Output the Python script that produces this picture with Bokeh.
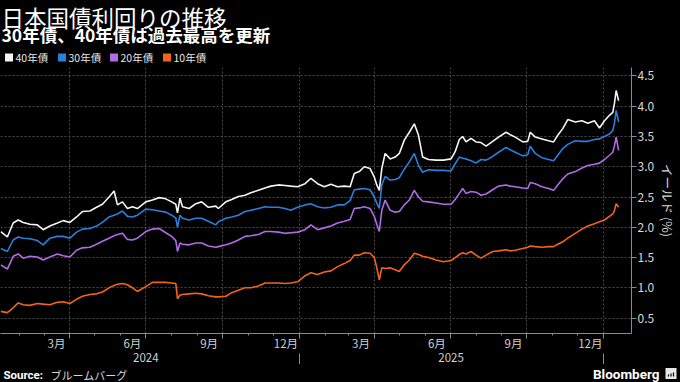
import pandas as pd
from bokeh.plotting import figure
from bokeh.layouts import column
from bokeh.models import (ColumnDataSource, FixedTicker, LinearAxis, Grid,
                          Range1d, NumeralTickFormatter)
from bokeh.core.properties import value
from bokeh.embed import file_html
from bokeh.resources import INLINE

# ---------------- data ----------------
dates = [
    "2024-01-09", "2024-01-17", "2024-01-24", "2024-01-30", "2024-02-05", "2024-02-13", "2024-02-22", "2024-02-29", "2024-03-08", "2024-03-17",
    "2024-03-24", "2024-04-01", "2024-04-09", "2024-04-16", "2024-04-25", "2024-05-03", "2024-05-10", "2024-05-18", "2024-05-24", "2024-05-28",
    "2024-06-03", "2024-06-09", "2024-06-15", "2024-06-21", "2024-07-01", "2024-07-09", "2024-07-17", "2024-07-25", "2024-08-01", "2024-08-06",
    "2024-08-08", "2024-08-11", "2024-08-14", "2024-08-22", "2024-08-30", "2024-09-06", "2024-09-14", "2024-09-23", "2024-09-26", "2024-10-05",
    "2024-10-12", "2024-10-20", "2024-10-28", "2024-11-04", "2024-11-13", "2024-11-21", "2024-11-28", "2024-12-07", "2024-12-15", "2024-12-22",
    "2024-12-30", "2025-01-08", "2025-01-15", "2025-01-23", "2025-01-31", "2025-02-08", "2025-02-16", "2025-02-24", "2025-03-03", "2025-03-08",
    "2025-03-14", "2025-03-20", "2025-03-27", "2025-04-01", "2025-04-04", "2025-04-07", "2025-04-10", "2025-04-14", "2025-04-20", "2025-04-26",
    "2025-05-01", "2025-05-07", "2025-05-13", "2025-05-19", "2025-05-24", "2025-05-29", "2025-06-05", "2025-06-14", "2025-06-23", "2025-07-02",
    "2025-07-07", "2025-07-12", "2025-07-16", "2025-07-20", "2025-07-26", "2025-08-01", "2025-08-07", "2025-08-13", "2025-08-21", "2025-08-28",
    "2025-09-06", "2025-09-11", "2025-09-17", "2025-09-26", "2025-10-02", "2025-10-05", "2025-10-11", "2025-10-19", "2025-10-27", "2025-11-02",
    "2025-11-07", "2025-11-13", "2025-11-19", "2025-11-28", "2025-12-06", "2025-12-13", "2025-12-21", "2025-12-27", "2026-01-02", "2026-01-08",
    "2026-01-12", "2026-01-14", "2026-01-16", "2026-01-19",
]

yield_40y = [
    1.93, 1.84, 2.07, 2.12, 2.08, 2.05, 2.04, 1.96, 2.02, 2.07,
    2.11, 2.08, 2.17, 2.26, 2.27, 2.33, 2.38, 2.50, 2.60, 2.37,
    2.42, 2.31, 2.34, 2.31, 2.42, 2.45, 2.49, 2.47, 2.42, 2.38,
    2.24, 2.48, 2.34, 2.31, 2.39, 2.42, 2.33, 2.35, 2.31, 2.42,
    2.46, 2.51, 2.53, 2.57, 2.61, 2.65, 2.68, 2.70, 2.69, 2.68,
    2.67, 2.72, 2.81, 2.72, 2.67, 2.71, 2.67, 2.68, 2.67, 2.89,
    2.92, 3.00, 2.97, 2.83, 2.70, 2.61, 2.97, 3.22, 3.13, 3.16,
    3.22, 3.44, 3.57, 3.71, 3.52, 3.16, 3.12, 3.11, 3.11, 3.13,
    3.25, 3.45, 3.50, 3.41, 3.47, 3.41, 3.40, 3.34, 3.42, 3.49,
    3.57, 3.53, 3.49, 3.41, 3.42, 3.57, 3.49, 3.46, 3.43, 3.41,
    3.52, 3.63, 3.78, 3.74, 3.76, 3.72, 3.76, 3.64, 3.76, 3.85,
    3.90, 4.05, 4.26, 4.09,
]

yield_30y = [
    1.65, 1.60, 1.79, 1.84, 1.82, 1.81, 1.78, 1.71, 1.82, 1.85,
    1.85, 1.82, 1.92, 1.97, 1.98, 2.02, 2.08, 2.17, 2.20, 2.22,
    2.27, 2.18, 2.17, 2.20, 2.30, 2.29, 2.27, 2.25, 2.20, 2.15,
    2.00, 2.20, 2.15, 2.12, 2.15, 2.15, 2.10, 2.04, 2.09, 2.15,
    2.17, 2.20, 2.26, 2.28, 2.31, 2.34, 2.33, 2.33, 2.31, 2.28,
    2.33, 2.37, 2.39, 2.34, 2.32, 2.33, 2.37, 2.37, 2.44, 2.62,
    2.63, 2.64, 2.62, 2.50, 2.40, 2.31, 2.70, 2.84, 2.78, 2.79,
    2.82, 2.96, 3.08, 3.22, 3.02, 2.91, 2.95, 2.94, 2.94, 2.93,
    3.05, 3.16, 3.14, 3.13, 3.10, 3.06, 3.12, 3.11, 3.17, 3.24,
    3.32, 3.28, 3.24, 3.18, 3.20, 3.34, 3.22, 3.15, 3.12, 3.10,
    3.19, 3.30, 3.37, 3.43, 3.42, 3.42, 3.45, 3.46, 3.50, 3.54,
    3.60, 3.72, 3.93, 3.74,
]

yield_20y = [
    1.38, 1.31, 1.52, 1.56, 1.49, 1.52, 1.51, 1.46, 1.51, 1.56,
    1.53, 1.51, 1.62, 1.66, 1.67, 1.72, 1.77, 1.82, 1.86, 1.88,
    1.90, 1.80, 1.79, 1.82, 1.93, 1.97, 1.98, 1.91, 1.85, 1.78,
    1.60, 1.74, 1.72, 1.71, 1.74, 1.74, 1.69, 1.67, 1.68, 1.71,
    1.74, 1.79, 1.85, 1.86, 1.88, 1.93, 1.93, 1.92, 1.90, 1.91,
    1.92, 1.96, 2.04, 1.96, 1.99, 2.02, 2.07, 2.10, 2.13, 2.31,
    2.32, 2.34, 2.31, 2.18, 2.05, 1.93, 2.28, 2.45, 2.28, 2.25,
    2.26, 2.37, 2.45, 2.61, 2.50, 2.43, 2.42, 2.40, 2.38, 2.38,
    2.46, 2.56, 2.64, 2.56, 2.59, 2.58, 2.53, 2.55, 2.62, 2.68,
    2.70, 2.68, 2.67, 2.65, 2.64, 2.74, 2.72, 2.67, 2.64, 2.61,
    2.70, 2.80, 2.88, 2.92, 2.98, 3.02, 3.04, 3.06, 3.12, 3.19,
    3.24, 3.35, 3.49, 3.27,
]

yield_10y = [
    0.61, 0.59, 0.67, 0.75, 0.72, 0.71, 0.74, 0.73, 0.72, 0.76,
    0.77, 0.74, 0.81, 0.86, 0.89, 0.90, 0.93, 1.00, 1.04, 1.06,
    1.07, 1.05, 1.00, 0.94, 1.02, 1.09, 1.09, 1.09, 1.08, 1.07,
    0.82, 0.88, 0.89, 0.90, 0.91, 0.90, 0.87, 0.85, 0.85, 0.86,
    0.92, 0.96, 1.00, 1.00, 1.03, 1.08, 1.08, 1.08, 1.07, 1.08,
    1.10, 1.20, 1.25, 1.22, 1.26, 1.28, 1.35, 1.40, 1.45, 1.54,
    1.54, 1.58, 1.57, 1.50, 1.33, 1.13, 1.33, 1.32, 1.33, 1.30,
    1.27, 1.38, 1.46, 1.57, 1.55, 1.52, 1.50, 1.46, 1.43, 1.45,
    1.50, 1.55, 1.58, 1.56, 1.60, 1.54, 1.49, 1.54, 1.60, 1.61,
    1.63, 1.61, 1.62, 1.65, 1.67, 1.69, 1.68, 1.67, 1.68, 1.68,
    1.72, 1.76, 1.82, 1.90, 1.97, 2.02, 2.06, 2.09, 2.12, 2.18,
    2.22, 2.28, 2.39, 2.33,
]

series_names = ["40年債", "30年債", "20年債", "10年債"]
series_colors = ["#f4f4f4", "#2a7fdc", "#b26be8", "#f26419"]

y_ticks = [0.5, 1.0, 1.5, 2.0, 2.5, 3.0, 3.5, 4.0, 4.5]
month_labels = ["3月", "6月", "9月", "12月", "3月", "6月", "9月", "12月"]
month_label_dates = ["2024-03-16", "2024-06-15", "2024-09-15", "2024-12-16",
                     "2025-03-16", "2025-06-15", "2025-09-15", "2025-12-16"]
quarter_dates = ["2024-04-01", "2024-07-01", "2024-10-01", "2025-01-01",
                 "2025-04-01", "2025-07-01", "2025-10-01", "2026-01-01"]
year_labels = ["2024", "2025"]
year_label_dates = ["2024-07-01", "2025-07-02"]
year_divider_dates = ["2025-01-01", "2026-01-01"]

title_text = "日本国債利回りの推移"
subtitle_text = "30年債、40年債は過去最高を更新"
y_axis_title = "イールド (%)"
source_label = "Source:"
source_name = "ブルームバーグ"
brand = "Bloomberg"


def ms(s):
    return float(pd.Timestamp(s).value // 10**6)


month_start_ms = [ms(d) for d in pd.date_range("2024-02-01", "2026-01-01", freq="MS")]

FONT = "Noto Sans CJK JP"
BG = "#000000"
W = 680
HDR_H, FTR_H = 66, 18
MAIN_H = 382 - HDR_H - FTR_H


def blank(h):
    f = figure(width=W, height=h, x_range=Range1d(0, W), y_range=Range1d(h, 0),
               output_backend="svg", toolbar_location=None, x_axis_type=None,
               y_axis_type=None, min_border=0, outline_line_color=None,
               background_fill_color=BG, border_fill_color=BG)
    try:
        f.frame_align = False
    except Exception:
        pass
    return f


# ---------------- header: title, subtitle, legend ----------------
hdr = blank(HDR_H)
hdr.text(x=[1], y=[0], text=[title_text], text_font=value(FONT), text_font_size="22.5px",
         text_color="#ffffff", text_baseline="top", text_align="left")
hdr.text(x=[1], y=[34], text=[subtitle_text], text_font=value(FONT), text_font_size="17.5px",
         text_font_style="bold", text_color="#ffffff", text_baseline="middle", text_align="left")
legend_left = [5, 58, 110, 163]
hdr.scatter(x=[v + 3.5 for v in legend_left], y=[57] * 4, marker="square", size=8,
            fill_color=series_colors, line_color=None)
hdr.text(x=[v + 10 for v in legend_left], y=[57] * 4, text=series_names, text_font=value(FONT),
         text_font_size="10.5px", text_color="#e6e6e6", text_baseline="middle", text_align="left")

# ---------------- main chart ----------------
src = ColumnDataSource(data=dict(date=pd.to_datetime(dates), y40=yield_40y,
                                 y30=yield_30y, y20=yield_20y, y10=yield_10y))

p = figure(width=W, height=MAIN_H, output_backend="svg", toolbar_location=None,
           x_axis_type=None, y_axis_location="right",
           x_range=Range1d(ms("2024-01-08 19:00"), ms("2026-02-03 10:00")),
           y_range=Range1d(0.245, 4.64),
           background_fill_color=BG, border_fill_color=BG, outline_line_color=None,
           min_border_top=1, min_border_bottom=0, min_border_left=0, min_border_right=0)

try:
    from bokeh.models import GlobalInlineStyleSheet
    p.stylesheets = [GlobalInlineStyleSheet(css="html, body { background: #000000; }")]
except Exception:
    pass

p.ygrid.grid_line_color = "#4a4a4a"
p.ygrid.grid_line_dash = "2 2"
p.ygrid.grid_line_width = 1
p.add_layout(Grid(dimension=0, ticker=FixedTicker(ticks=[ms(d) for d in quarter_dates]),
                  grid_line_color="#4a4a4a", grid_line_dash="2 2", grid_line_width=1))

for col, c in [("y10", series_colors[3]), ("y20", series_colors[2]),
               ("y30", series_colors[1]), ("y40", series_colors[0])]:
    p.line("date", col, source=src, line_color=c, line_width=1.6)

yax = p.yaxis[0]
yax.ticker = FixedTicker(ticks=y_ticks, minor_ticks=[])
yax.formatter = NumeralTickFormatter(format="0.0")
yax.axis_line_color = "#8a8a8a"
yax.major_tick_line_color = "#8a8a8a"
yax.major_tick_out = 5
yax.major_tick_in = 0
yax.minor_tick_line_color = None
yax.major_label_text_color = "#d8d8d8"
yax.major_label_text_font = FONT
yax.major_label_text_font_size = "12px"
yax.major_label_standoff = 1
yax.axis_label = y_axis_title
yax.axis_label_text_color = "#d8d8d8"
yax.axis_label_text_font = FONT
yax.axis_label_text_font_size = "12.5px"
yax.axis_label_text_font_style = "normal"
yax.axis_label_standoff = 1

ax_ticks = LinearAxis(ticker=FixedTicker(ticks=[ms(d) for d in quarter_dates], minor_ticks=month_start_ms),
                      axis_line_color="#8a8a8a", major_tick_line_color="#8a8a8a",
                      minor_tick_line_color="#8a8a8a", major_tick_out=5, major_tick_in=0,
                      minor_tick_out=2, minor_tick_in=0, major_label_text_font_size="0px",
                      major_label_text_alpha=0, major_label_standoff=0)
p.add_layout(ax_ticks, "below")

m_ms = [ms(d) for d in month_label_dates]
ax_months = LinearAxis(ticker=FixedTicker(ticks=m_ms, minor_ticks=[]),
                       major_label_overrides={t: l for t, l in zip(m_ms, month_labels)},
                       axis_line_color=None, major_tick_line_color=None, minor_tick_line_color=None,
                       major_tick_out=0, major_tick_in=0, major_label_standoff=-4,
                       major_label_text_font=FONT, major_label_text_font_size="11.5px",
                       major_label_text_color="#d0d0d0")
p.add_layout(ax_months, "below")

y_ms = [ms(d) for d in year_label_dates]
ax_years = LinearAxis(ticker=FixedTicker(ticks=y_ms, minor_ticks=[ms(d) for d in year_divider_dates]),
                      major_label_overrides={t: l for t, l in zip(y_ms, year_labels)},
                      axis_line_color=None, major_tick_line_color=None,
                      minor_tick_line_color="#8a8a8a", minor_tick_out=16, minor_tick_in=0,
                      major_tick_out=0, major_tick_in=0, major_label_standoff=-17,
                      major_label_text_font=FONT, major_label_text_font_size="11.5px",
                      major_label_text_color="#d0d0d0")
p.add_layout(ax_years, "below")

# ---------------- footer: source and brand ----------------
ftr = blank(FTR_H)
ftr.text(x=[3], y=[10], text=[source_label], text_font=value("Roboto"), text_font_size="11.5px",
         text_font_style="bold", text_color="#ffffff", text_baseline="middle", text_align="left")
ftr.text(x=[50], y=[10], text=[source_name], text_font=value(FONT), text_font_size="11px",
         text_color="#d8d8d8", text_baseline="middle", text_align="left")
ftr.text(x=[659], y=[9], text=[brand], text_font=value("Roboto"), text_font_size="13.5px",
         text_font_style="bold", text_color="#ffffff", text_baseline="middle", text_align="right")
ftr.scatter(x=[670.5], y=[9], marker="square", size=11, fill_color="#e8e8e8", line_color=None)
ftr.rect(x=[668, 670.5, 673], y=[11, 10.5, 10], width=1.2, height=[2, 3, 4],
         fill_color="#000000", line_color=None)

layout = column(hdr, p, ftr, spacing=0)
open("out.html", "w").write(file_html(layout, INLINE))
